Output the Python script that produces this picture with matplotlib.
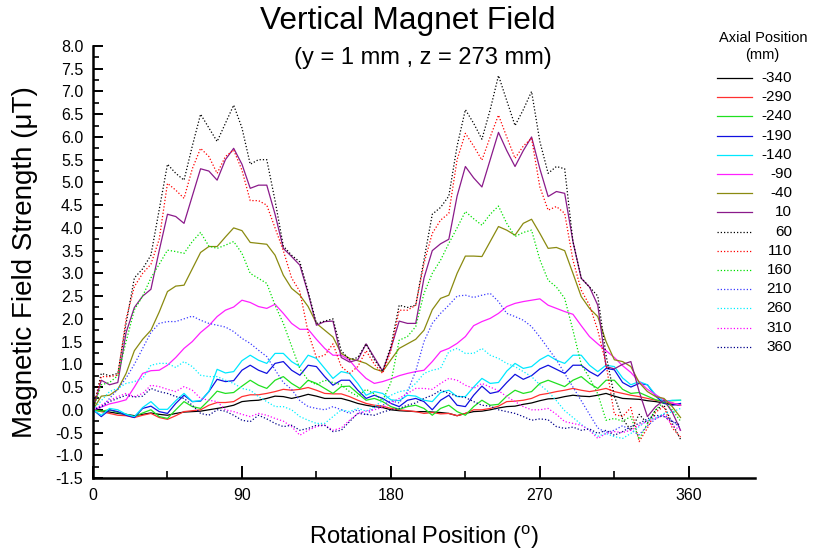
import numpy as np
import matplotlib
matplotlib.use("Agg")
import matplotlib.pyplot as plt
from matplotlib.lines import Line2D
from matplotlib.ticker import FormatStrFormatter, MultipleLocator

plt.rcParams['font.family'] = ['Liberation Sans', 'DejaVu Sans']

# rotational positions, 5 degree steps
angle = np.arange(0, 360, 5)

# field readings (uT) for each axial position (mm)
m340 = [0.00, -0.03, -0.05, -0.08, -0.10, -0.13, -0.10, -0.07, -0.10, -0.12, -0.08, -0.05,
        -0.04, -0.03, 0.00, 0.03, 0.06, 0.10, 0.18, 0.20, 0.21, 0.25, 0.30, 0.29,
        0.25, 0.29, 0.34, 0.30, 0.25, 0.25, 0.25, 0.20, 0.14, 0.10, 0.07, 0.05,
        0.00, -0.02, -0.03, -0.04, -0.04, -0.05, -0.06, -0.08, -0.13, -0.08, -0.04, -0.03,
        0.00, 0.04, 0.07, 0.08, 0.12, 0.15, 0.20, 0.24, 0.25, 0.29, 0.32, 0.30,
        0.29, 0.32, 0.36, 0.30, 0.25, 0.24, 0.23, 0.20, 0.18, 0.15, 0.12, 0.10]
m290 = [0.00, -0.04, -0.08, -0.12, -0.13, -0.17, -0.12, -0.08, -0.17, -0.21, -0.13, -0.04,
        -0.02, 0.00, 0.10, 0.16, 0.16, 0.18, 0.29, 0.33, 0.33, 0.36, 0.40, 0.45,
        0.43, 0.45, 0.49, 0.43, 0.36, 0.35, 0.35, 0.29, 0.21, 0.14, 0.10, 0.08,
        0.03, 0.00, -0.02, -0.04, -0.08, -0.06, -0.09, -0.08, -0.13, -0.08, 0.00, 0.00,
        0.03, 0.08, 0.18, 0.19, 0.21, 0.25, 0.33, 0.36, 0.40, 0.43, 0.47, 0.43,
        0.40, 0.43, 0.47, 0.40, 0.36, 0.32, 0.29, 0.25, 0.21, 0.18, 0.15, 0.10]
m240 = [0.00, -0.03, 0.00, -0.06, -0.10, -0.15, -0.07, 0.00, -0.15, -0.19, 0.00, 0.18,
        0.07, 0.03, 0.21, 0.41, 0.36, 0.38, 0.52, 0.65, 0.54, 0.47, 0.65, 0.73,
        0.58, 0.47, 0.65, 0.58, 0.47, 0.36, 0.51, 0.52, 0.36, 0.21, 0.25, 0.18,
        0.07, 0.01, 0.07, 0.10, 0.03, -0.12, 0.03, 0.10, -0.04, -0.12, 0.07, 0.21,
        0.10, 0.12, 0.30, 0.43, 0.36, 0.40, 0.58, 0.65, 0.58, 0.51, 0.65, 0.73,
        0.58, 0.47, 0.65, 0.65, 0.45, 0.36, 0.38, 0.30, 0.22, 0.18, 0.20, 0.21]
m190 = [0.00, -0.15, 0.00, -0.04, -0.12, -0.17, 0.03, 0.08, -0.04, -0.08, 0.14, 0.32,
        0.18, 0.19, 0.40, 0.67, 0.62, 0.64, 0.87, 0.98, 0.87, 0.80, 1.02, 1.06,
        0.87, 0.76, 0.98, 0.95, 0.73, 0.54, 0.65, 0.65, 0.43, 0.25, 0.32, 0.25,
        0.14, 0.07, 0.21, 0.25, 0.18, 0.00, 0.21, 0.32, 0.10, 0.07, 0.32, 0.52,
        0.36, 0.40, 0.60, 0.78, 0.67, 0.75, 0.90, 0.98, 0.89, 0.80, 0.98, 0.98,
        0.84, 0.74, 0.91, 0.88, 0.60, 0.50, 0.58, 0.55, 0.30, 0.14, 0.10, 0.14]
m140 = [0.00, -0.12, 0.03, 0.00, -0.10, -0.15, 0.05, 0.18, 0.01, 0.01, 0.20, 0.36,
        0.18, 0.20, 0.40, 0.89, 0.81, 0.84, 1.08, 1.20, 1.09, 1.02, 1.24, 1.24,
        1.06, 0.95, 1.20, 1.13, 0.91, 0.69, 0.84, 0.80, 0.58, 0.32, 0.40, 0.36,
        0.22, 0.20, 0.32, 0.30, 0.21, 0.18, 0.38, 0.43, 0.29, 0.29, 0.50, 0.69,
        0.58, 0.60, 0.85, 1.02, 0.91, 0.95, 1.10, 1.20, 1.09, 1.02, 1.20, 1.20,
        0.98, 0.84, 0.98, 0.95, 0.70, 0.55, 0.62, 0.55, 0.33, 0.18, 0.21, 0.21]
m90 = [0.00, 0.06, 0.13, 0.17, 0.22, 0.50, 0.80, 0.86, 0.87, 0.98, 1.15, 1.35,
       1.50, 1.70, 1.85, 2.05, 2.19, 2.26, 2.41, 2.36, 2.27, 2.23, 2.32, 2.12,
       1.90, 1.77, 1.77, 1.55, 1.35, 1.20, 1.20, 1.09, 0.87, 0.69, 0.58, 0.62,
       0.68, 0.75, 0.80, 0.84, 0.87, 1.06, 1.28, 1.35, 1.46, 1.61, 1.85, 1.94,
       2.01, 2.12, 2.27, 2.34, 2.38, 2.41, 2.44, 2.30, 2.23, 2.16, 2.10, 1.85,
       1.61, 1.45, 1.30, 1.15, 0.97, 0.82, 0.62, 0.45, 0.33, 0.22, 0.15, 0.10]
m40 = [0.00, 0.30, 0.32, 0.45, 0.80, 1.30, 1.55, 1.75, 2.15, 2.60, 2.72, 2.74,
       3.10, 3.46, 3.59, 3.59, 3.80, 4.00, 3.94, 3.68, 3.66, 3.64, 3.40, 2.96,
       2.67, 2.52, 2.27, 1.90, 1.75, 1.60, 1.24, 1.13, 1.08, 1.02, 0.90, 0.84,
       1.10, 1.35, 1.45, 1.55, 1.75, 2.20, 2.45, 2.52, 3.00, 3.38, 3.38, 3.37,
       3.70, 4.03, 3.95, 3.84, 4.10, 4.19, 3.88, 3.55, 3.57, 3.50, 3.00, 2.49,
       2.23, 2.05, 1.50, 1.10, 1.06, 0.95, 0.60, 0.40, 0.29, 0.25, 0.07, -0.17]
p10 = [0.00, 0.65, 0.55, 0.60, 1.70, 2.25, 2.50, 2.65, 3.50, 4.30, 4.25, 4.10,
       4.70, 5.30, 5.25, 5.05, 5.50, 5.75, 5.40, 4.87, 4.94, 4.94, 4.30, 3.55,
       3.37, 3.18, 2.56, 1.86, 1.94, 1.95, 1.15, 1.05, 1.10, 1.45, 1.15, 0.85,
       1.35, 1.95, 1.90, 1.90, 2.90, 3.50, 3.65, 3.75, 4.70, 5.35, 5.10, 4.90,
       5.50, 6.10, 5.70, 5.35, 5.70, 6.00, 5.30, 4.69, 4.80, 4.76, 3.70, 2.89,
       2.70, 2.30, 0.95, 0.90, 1.00, 1.06, 0.40, -0.15, 0.07, 0.21, -0.05, -0.45]
p60 = [0.00, 0.80, 0.75, 0.80, 1.90, 2.90, 3.10, 3.40, 4.40, 5.40, 5.20, 5.05,
       5.80, 6.50, 6.20, 5.90, 6.30, 6.70, 6.20, 5.40, 5.50, 5.50, 4.60, 3.60,
       3.40, 3.25, 2.60, 1.90, 1.95, 2.00, 1.30, 1.10, 1.15, 1.45, 1.10, 0.85,
       1.40, 2.30, 2.25, 2.30, 3.30, 4.30, 4.45, 4.70, 5.80, 6.60, 6.30, 5.95,
       6.60, 7.35, 6.80, 6.25, 6.60, 7.00, 5.90, 5.20, 5.35, 5.30, 3.70, 2.90,
       2.70, 2.50, 1.20, 0.30, -0.20, -0.45, -0.10, -0.30, 0.00, 0.10, -0.30, -0.65]
p110 = [0.00, 0.73, 0.73, 0.76, 2.00, 2.71, 3.00, 3.20, 3.75, 4.98, 4.83, 4.65,
        5.30, 5.75, 5.57, 5.20, 5.57, 5.71, 5.27, 4.60, 4.60, 4.50, 4.00, 3.50,
        2.90, 2.60, 1.70, 1.15, 1.20, 1.45, 0.95, 0.80, 0.95, 1.30, 1.00, 0.80,
        1.30, 2.19, 2.19, 2.30, 3.22, 3.88, 4.17, 4.32, 5.50, 6.08, 5.80, 5.49,
        6.00, 6.48, 6.00, 5.53, 5.80, 5.97, 4.90, 4.39, 4.47, 4.32, 3.29, 2.63,
        2.30, 1.75, 1.00, -0.10, -0.15, 0.05, -0.70, -0.40, -0.05, 0.07, -0.40, -0.60]
p160 = [0.00, 0.55, 0.60, 0.75, 1.50, 2.20, 2.50, 2.90, 3.20, 3.51, 3.48, 3.44,
        3.70, 3.90, 3.60, 3.55, 3.62, 3.70, 3.44, 3.00, 2.89, 2.78, 2.30, 1.90,
        1.40, 0.90, 0.65, 0.55, 0.65, 0.60, 0.55, 0.40, 0.30, 0.45, 0.35, 0.20,
        0.60, 1.53, 1.61, 1.83, 2.56, 3.00, 3.29, 3.66, 4.00, 4.36, 4.20, 4.06,
        4.30, 4.48, 4.10, 3.81, 3.90, 3.95, 3.30, 2.85, 2.70, 2.45, 1.75, 1.00,
        0.70, 0.35, -0.23, -0.19, -0.25, -0.15, -0.65, -0.30, 0.00, 0.18, 0.00, -0.25]
p210 = [0.00, 0.05, 0.25, 0.45, 0.70, 1.00, 1.35, 1.70, 1.90, 1.94, 1.94, 2.00,
        2.06, 1.97, 1.90, 1.86, 1.82, 1.72, 1.57, 1.46, 1.31, 1.17, 0.88, 0.60,
        0.45, 0.20, 0.07, 0.03, 0.00, 0.07, 0.00, -0.08, 0.00, -0.12, 0.05, 0.10,
        0.20, 0.15, 0.40, 0.85, 1.50, 1.90, 2.12, 2.30, 2.50, 2.52, 2.47, 2.52,
        2.56, 2.38, 2.12, 2.05, 1.97, 1.83, 1.60, 1.35, 1.10, 0.80, 0.50, 0.20,
        -0.10, -0.40, -0.50, -0.45, -0.35, -0.45, -0.55, -0.35, -0.20, -0.10, -0.25, -0.40]
p260 = [0.00, 0.20, 0.40, 0.47, 0.58, 0.62, 0.69, 0.98, 1.02, 1.02, 0.93, 1.06,
        0.95, 0.76, 0.73, 0.73, 0.65, 0.58, 0.47, 0.43, 0.29, 0.18, 0.07, 0.07,
        0.00, -0.15, -0.23, -0.30, -0.30, -0.15, 0.00, -0.04, 0.03, -0.03, 0.07, 0.20,
        0.32, 0.40, 0.43, 0.58, 0.80, 0.87, 0.91, 1.28, 1.35, 1.24, 1.24, 1.35,
        1.20, 1.13, 1.02, 0.95, 0.84, 0.73, 0.55, 0.40, 0.20, -0.02, -0.17, -0.32,
        -0.45, -0.58, -0.52, -0.59, -0.63, -0.52, -0.37, -0.23, -0.18, -0.08, -0.05, 0.03]
p310 = [0.00, 0.10, 0.21, 0.29, 0.36, 0.29, 0.36, 0.54, 0.51, 0.45, 0.40, 0.51,
        0.43, 0.25, 0.21, 0.18, 0.00, -0.04, -0.10, -0.15, -0.08, -0.12, -0.19, -0.25,
        -0.37, -0.56, -0.45, -0.37, -0.34, -0.45, -0.40, -0.23, -0.08, -0.03, 0.00, 0.05,
        0.15, 0.25, 0.36, 0.47, 0.47, 0.45, 0.58, 0.69, 0.65, 0.54, 0.47, 0.58,
        0.50, 0.42, 0.29, 0.18, 0.07, 0.00, 0.00, 0.03, -0.10, -0.26, -0.30, -0.34,
        -0.45, -0.63, -0.52, -0.48, -0.50, -0.45, -0.34, -0.25, -0.19, -0.12, -0.34, -0.45]
p360 = [0.00, 0.07, 0.18, 0.25, 0.32, 0.28, 0.30, 0.47, 0.40, 0.36, 0.29, 0.25,
        0.10, -0.08, -0.12, 0.00, -0.03, -0.12, -0.23, -0.26, -0.12, -0.20, -0.30, -0.37,
        -0.34, -0.45, -0.41, -0.34, -0.34, -0.48, -0.45, -0.26, -0.08, -0.10, -0.12, -0.05,
        0.00, 0.03, 0.10, 0.15, 0.25, 0.32, 0.43, 0.36, 0.30, 0.27, 0.18, 0.10,
        0.08, 0.00, -0.04, -0.08, -0.15, -0.23, -0.20, -0.22, -0.37, -0.41, -0.38, -0.45,
        -0.42, -0.52, -0.45, -0.56, -0.48, -0.37, -0.30, -0.20, -0.12, -0.15, -0.25, -0.34]

labels = ['-340', '-290', '-240', '-190', '-140', '-90', '-40', '10',
          '60', '110', '160', '210', '260', '310', '360']
series = [m340, m290, m240, m190, m140, m90, m40, p10,
          p60, p110, p160, p210, p260, p310, p360]
colors = ['#000000', '#ff3030', '#20e020', '#1010e0', '#00e8ff', '#ff20ff', '#8a8a10', '#8a1a8a',
          '#000000', '#ff0000', '#00e000', '#3a3aff', '#00f0ff', '#ff00ff', '#00008a']
styles = ['-'] * 8 + [(0, (1, 1.6))] * 7

W, H = 815, 554
fig = plt.figure(figsize=(W / 100, H / 100), dpi=100)
ax = fig.add_axes([93 / W, 1 - 478 / H, 662 / W, 432 / H])

for vals, c, ls, lab in zip(series, colors, styles, labels):
    ax.plot(angle, vals, color=c, ls=ls, lw=0.9, label=lab)

ax.set_xlim(0, 400)
ax.set_ylim(-1.5, 8.0)
ax.set_xticks([0, 90, 180, 270, 360])
ax.set_xticks([45, 135, 225, 315], minor=True)
ax.yaxis.set_major_locator(MultipleLocator(0.5))
ax.yaxis.set_minor_locator(MultipleLocator(0.25))
ax.yaxis.set_major_formatter(FormatStrFormatter('%.1f'))

for s in ['top', 'right']:
    ax.spines[s].set_visible(False)
for s in ['left', 'bottom']:
    ax.spines[s].set_linewidth(1.8)

ax.tick_params(which='major', direction='in', length=9, width=1.4, labelsize=11.5, pad=7)
ax.tick_params(which='minor', direction='in', length=5, width=1.2)
ax.tick_params(axis='y', which='major', length=7)
ax.tick_params(axis='y', which='minor', length=4)

ax.set_xlabel(r'Rotational Position ($^{\mathregular{o}}$)', fontsize=17)
ax.xaxis.set_label_coords(0.5, -0.105)
ax.set_ylabel('Magnetic Field Strength (\u03bcT)', fontsize=20)
ax.yaxis.set_label_coords(-0.083, 0.5)

fig.text(408 / W, 1 - 21 / H, 'Vertical Magnet Field', ha='center', va='center', fontsize=22.8)
fig.text(423 / W, 1 - 58 / H, '(y = 1 mm , z = 273 mm)', ha='center', va='center', fontsize=17)

# legend block on the right: short line sample, value right-aligned
fig.text(763 / W, 1 - 38 / H, 'Axial Position', ha='center', va='center', fontsize=10.5)
fig.text(762 / W, 1 - 55 / H, '(mm)', ha='center', va='center', fontsize=10.5)
row0, row_step = 78, 19.2
for i, (c, ls, lab) in enumerate(zip(colors, styles, labels)):
    y = 1 - (row0 + i * row_step) / H
    fig.add_artist(Line2D([717 / W, 752 / W], [y, y], transform=fig.transFigure,
                          color=c, ls=ls, lw=0.9))
    fig.text(792 / W, y, lab, ha='right', va='center', fontsize=11)

fig.savefig('out.png', dpi=100)
